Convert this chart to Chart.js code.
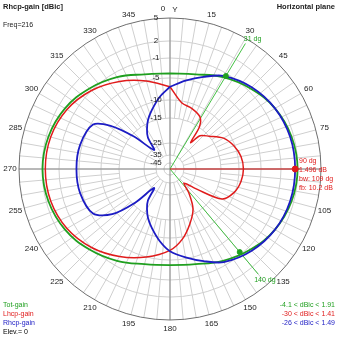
<!DOCTYPE html>
<html>
<head>
<meta charset="utf-8">
<script src="https://cdn.jsdelivr.net/npm/chart.js@4"></script>
<style>
  body { margin: 0; background: #fff; }
  canvas { display: block; }
</style>
</head>
<body>
<canvas id="polar" width="339" height="339"></canvas>
<script>
// Azimuth pattern, gains in dBic against compass angle (0 = up, clockwise)
const TOT_ANGLES = [0, 15, 30, 45, 60, 75, 90, 105, 120, 135, 150, 165, 180, 195, 210, 225, 240, 255, 270, 285, 300, 315, 330, 345];
const TOT_GAIN = [-4.1, -3.6, -2.0, -0.5, 0.8, 1.6, 1.91, 1.6, 0.8, -0.5, -2.0, -3.5, -4.0, -3.5, -2.0, -0.5, 0.8, 1.6, 1.9, 1.6, 0.8, -0.5, -2.0, -3.6];

const LHCP_ANGLES = [0, 10, 20, 30, 35, 38, 42, 50, 60, 70, 80, 90, 100, 110, 120, 127, 132, 136, 142, 150, 160, 170, 180, 195, 210, 225, 240, 255, 270, 285, 300, 315, 330, 345];
const LHCP_GAIN = [-7, -10.5, -11.3, -12.5, -15, -22, -17.5, -15, -12, -10.3, -9.3, -9, -9.3, -10.2, -12.5, -22, -28, -30, -23, -17, -13, -9.5, -7.2, -5, -3, -1, 0.4, 1.2, 1.41, 1.2, 0.4, -1, -3, -5];

const RHCP_ANGLES = [0, 10, 20, 30, 45, 60, 75, 90, 105, 120, 135, 150, 160, 170, 180, 188, 197, 204, 210, 215, 220, 226, 232, 240, 255, 270, 285, 300, 306, 312, 320, 325, 330, 336, 343, 352];
const RHCP_GAIN = [-7, -5.3, -3.6, -1.7, -0.2, 0.8, 1.35, 1.49, 1.35, 0.8, -0.2, -1.7, -3.6, -5.3, -7, -9.1, -12, -14.2, -17, -20, -26, -16, -9, -5.5, -4.6, -4.5, -4.6, -5.5, -9, -16, -26, -20, -17, -14.2, -12, -9.1];

// Rings of the log gain scale and the angle labels
const RING_DB = [5, 2, -1, -5, -10, -15, -25, -35, -45];
const ANGLE_TICKS = [0, 15, 30, 45, 60, 75, 105, 120, 135, 150, 165, 180, 195, 210, 225, 240, 255, 270, 285, 300, 315, 330, 345];

// Cursor and beamwidth readout
const CURSOR_ANGLE = 90;
const CURSOR_GAIN = 1.496;
const BW_ANGLES = [31, 140];
const BW_GAIN = -1.51;

// radius (fraction of outer ring) for each ring of the scale
const RING_RADIUS = [1, 0.848, 0.735, 0.603, 0.457, 0.338, 0.172, 0.093, 0.040];

function gainToRadius(db) {
    if (db >= RING_DB[0]) return 1;
    for (let i = 1; i < RING_DB.length; i++) {
        if (db >= RING_DB[i]) {
            const t = (db - RING_DB[i]) / (RING_DB[i - 1] - RING_DB[i]);
            return RING_RADIUS[i] + t * (RING_RADIUS[i - 1] - RING_RADIUS[i]);
        }
    }
    return Math.max(0, RING_RADIUS[RING_RADIUS.length - 1] * (1 + (db + 45) / 10));
}

function toXY(angle, db) {
    const r = gainToRadius(db);
    const a = angle * Math.PI / 180;
    return { x: r * Math.sin(a), y: r * Math.cos(a) };
}

function tracePoints(angles, gains) {
    const pts = angles.map((a, i) => toXY(a, gains[i]));
    pts.push(pts[0]);
    return pts;
}

function spoke(angle, db) {
    return [{ x: 0, y: 0 }, toXY(angle, db)];
}

const GREEN = '#1f9f1f';
const RED = '#e01b1b';
const BLUE = '#1c1cc4';

const polarGrid = {
    id: 'polarGrid',
    beforeDatasetsDraw(chart) {
        const ctx = chart.ctx;
        const sx = chart.scales.x, sy = chart.scales.y;
        const cx = sx.getPixelForValue(0), cy = sy.getPixelForValue(0);
        const R = sx.getPixelForValue(1) - cx;
        ctx.save();
        ctx.lineWidth = 1;
        // spokes: every 5 deg on the outer part, every 15 deg further in
        ctx.strokeStyle = '#cfcfcf';
        for (let a = 0; a < 360; a += 5) {
            const r0 = (a % 15 === 0 ? gainToRadius(-35) : gainToRadius(-15)) * R;
            const rad = a * Math.PI / 180;
            ctx.beginPath();
            ctx.moveTo(cx + r0 * Math.sin(rad), cy - r0 * Math.cos(rad));
            ctx.lineTo(cx + R * Math.sin(rad), cy - R * Math.cos(rad));
            ctx.stroke();
        }
        RING_DB.slice(1).forEach(db => {
            ctx.beginPath();
            ctx.arc(cx, cy, gainToRadius(db) * R, 0, Math.PI * 2);
            ctx.stroke();
        });
        ctx.strokeStyle = '#8a8a8a';
        ctx.beginPath();
        ctx.moveTo(cx - R, cy); ctx.lineTo(cx + R, cy);
        ctx.moveTo(cx, cy - R); ctx.lineTo(cx, cy + R);
        ctx.stroke();
        ctx.strokeStyle = '#6e6e6e';
        ctx.beginPath();
        ctx.arc(cx, cy, R, 0, Math.PI * 2);
        ctx.stroke();
        ctx.restore();
    },
    afterDraw(chart) {
        const ctx = chart.ctx;
        const sx = chart.scales.x, sy = chart.scales.y;
        const cx = sx.getPixelForValue(0), cy = sy.getPixelForValue(0);
        const R = sx.getPixelForValue(1) - cx;
        ctx.save();
        ctx.textBaseline = 'middle';
        ctx.font = '8px "Liberation Sans", Arial, sans-serif';
        ctx.fillStyle = '#222';
        ctx.textAlign = 'center';
        ANGLE_TICKS.forEach(a => {
            const rad = a * Math.PI / 180;
            const rho = R + 9;
            let x = cx + rho * Math.sin(rad);
            if (a === 0) x -= 7;
            ctx.fillText(String(a), x, cy - rho * Math.cos(rad));
        });
        ctx.fillText('Y', cx + 5, cy - R - 8);
        RING_DB.forEach(db => {
            ctx.fillText(String(db), cx - 14, cy - gainToRadius(db) * R);
        });

        ctx.textAlign = 'left';
        ctx.font = 'bold 7.5px "Liberation Sans", Arial, sans-serif';
        ctx.fillText('Rhcp-gain [dBic]', 3, 7);
        ctx.textAlign = 'right';
        ctx.fillText('Horizontal plane', 335, 7);

        ctx.font = '7px "Liberation Sans", Arial, sans-serif';
        ctx.textAlign = 'left';
        ctx.fillText('Freq=216', 3, 25);
        const legend = [['Tot-gain', GREEN, '-4.1 < dBic < 1.91'], ['Lhcp-gain', RED, '-30 < dBic < 1.41'], ['Rhcp-gain', BLUE, '-26 < dBic < 1.49']];
        legend.forEach((row, i) => {
            ctx.fillStyle = row[1];
            ctx.textAlign = 'left';
            ctx.fillText(row[0], 3, 305 + i * 9);
            ctx.textAlign = 'right';
            ctx.fillText(row[2], 335, 305 + i * 9);
        });
        ctx.fillStyle = '#000';
        ctx.textAlign = 'left';
        ctx.fillText('Elev.= 0', 3, 332);

        // cursor readout
        ctx.fillStyle = RED;
        const readout = [CURSOR_ANGLE + ' dg', CURSOR_GAIN + ' dB', 'bw: ' + (BW_ANGLES[1] - BW_ANGLES[0]) + ' dg', 'fb: 10.2 dB'];
        readout.forEach((t, i) => ctx.fillText(t, cx + 129, cy - 8 + i * 9));
        // beamwidth edge labels sit at the end of their spokes
        ctx.fillStyle = GREEN;
        const top = toXY(BW_ANGLES[0], 5);
        ctx.fillText(BW_ANGLES[0] + ' dg', sx.getPixelForValue(top.x) - 4, sy.getPixelForValue(top.y) - 1);
        const low = toXY(BW_ANGLES[1], 3.2);
        ctx.fillText(BW_ANGLES[1] + ' dg', sx.getPixelForValue(low.x) - 4, sy.getPixelForValue(low.y) + 6);
        ctx.restore();
    }
};

new Chart(document.getElementById('polar'), {
    type: 'scatter',
    data: {
        datasets: [
            { data: [toXY(CURSOR_ANGLE, CURSOR_GAIN)], pointRadius: 3, backgroundColor: RED, borderColor: RED, showLine: false },
            { data: BW_ANGLES.map(a => toXY(a, BW_GAIN)), pointRadius: 2.5, backgroundColor: GREEN, borderColor: GREEN, showLine: false },
            { data: tracePoints(RHCP_ANGLES, RHCP_GAIN), borderColor: BLUE, borderWidth: 1.8, showLine: true, tension: 0.3 },
            { data: tracePoints(LHCP_ANGLES, LHCP_GAIN), borderColor: RED, borderWidth: 1.5, showLine: true, tension: 0.3 },
            { data: tracePoints(TOT_ANGLES, TOT_GAIN), borderColor: GREEN, borderWidth: 1.8, showLine: true, tension: 0.4 },
            { data: spoke(CURSOR_ANGLE, 2.3), borderColor: RED, borderWidth: 1, showLine: true },
            { data: spoke(BW_ANGLES[0], 4.4), borderColor: '#44c044', borderWidth: 1, showLine: true },
            { data: spoke(BW_ANGLES[1], 3.2), borderColor: '#44c044', borderWidth: 1, showLine: true }
        ]
    },
    options: {
        responsive: false,
        animation: false,
        layout: { padding: { left: 19, right: 18, top: 18, bottom: 19 } },
        elements: { point: { radius: 0 } },
        scales: {
            x: { type: 'linear', min: -1, max: 1, display: false },
            y: { type: 'linear', min: -1, max: 1, display: false }
        },
        plugins: { legend: { display: false }, tooltip: { enabled: false } }
    },
    plugins: [polarGrid]
});
</script>
</body>
</html>
